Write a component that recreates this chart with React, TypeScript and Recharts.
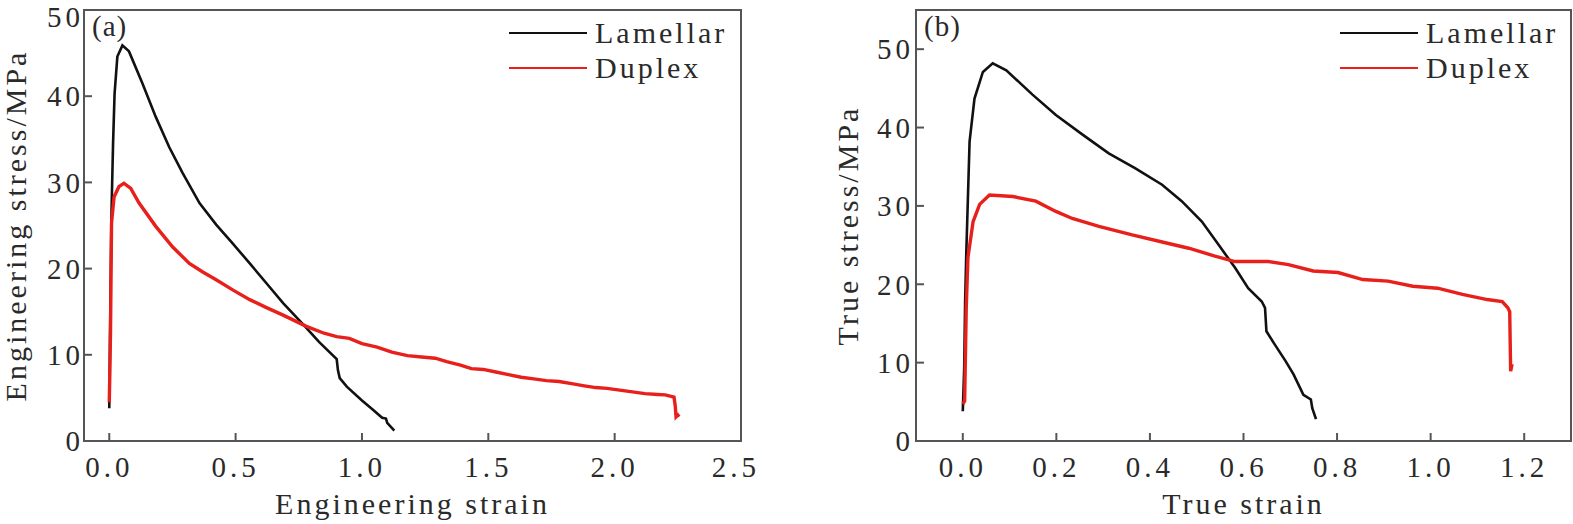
import React from "react";
import { Legend, Line, LineChart, ReferenceArea, XAxis, YAxis } from "recharts";

// (a) engineering stress-strain
const engStrainLamellar = [0, 0.004, 0.009, 0.015, 0.021, 0.032, 0.052, 0.078, 0.131, 0.184, 0.237, 0.29, 0.357, 0.423, 0.489, 0.556, 0.622, 0.688, 0.768, 0.83, 0.9, 0.905, 0.912, 0.94, 1.0, 1.04, 1.08, 1.095, 1.1, 1.128];
const engStressLamellar = [3.8, 15, 26.8, 34.5, 40.3, 44.6, 45.9, 45.2, 41.5, 37.6, 34.1, 31.1, 27.6, 25.1, 22.9, 20.6, 18.3, 16.0, 13.5, 11.5, 9.5, 8.2, 7.3, 6.3, 4.7, 3.7, 2.7, 2.6, 2.1, 1.2];
const engStrainDuplex = [0, 0.003, 0.005, 0.009, 0.019, 0.038, 0.058, 0.085, 0.118, 0.184, 0.251, 0.317, 0.37, 0.423, 0.49, 0.556, 0.62, 0.688, 0.78, 0.85, 0.9, 0.95, 1.0, 1.06, 1.118, 1.18, 1.236, 1.29, 1.335, 1.39, 1.433, 1.48, 1.53, 1.58, 1.63, 1.68, 1.73, 1.78, 1.83, 1.88, 1.925, 1.97, 2.02, 2.07, 2.12, 2.17, 2.2, 2.235, 2.24, 2.243, 2.25, 2.255];
const engStressDuplex = [4.5, 9, 12.9, 25.3, 28.3, 29.5, 29.9, 29.3, 27.6, 24.9, 22.5, 20.6, 19.6, 18.7, 17.5, 16.4, 15.5, 14.6, 13.3, 12.5, 12.1, 11.9, 11.3, 10.9, 10.3, 9.9, 9.75, 9.6, 9.2, 8.8, 8.4, 8.3, 8.0, 7.7, 7.4, 7.2, 7.0, 6.9, 6.65, 6.4, 6.2, 6.1, 5.9, 5.7, 5.5, 5.4, 5.35, 5.1, 4.0, 2.8, 3.0, 2.8];

// (b) true stress-strain
const trueStrainLamellar = [0, 0.003, 0.005, 0.0074, 0.0145, 0.025, 0.043, 0.064, 0.093, 0.149, 0.199, 0.256, 0.312, 0.369, 0.426, 0.468, 0.511, 0.546, 0.582, 0.61, 0.639, 0.646, 0.649, 0.667, 0.69, 0.707, 0.728, 0.744, 0.747, 0.755];
const trueStressLamellar = [3.8, 9.3, 17.8, 23.8, 38.2, 43.7, 47.1, 48.2, 47.3, 44.2, 41.6, 39.1, 36.7, 34.8, 32.7, 30.6, 28.0, 25.1, 22.1, 19.5, 17.8, 17.0, 14.0, 12.3, 10.2, 8.5, 5.9, 5.3, 4.2, 2.8];
const trueStrainDuplex = [0, 0.004, 0.0074, 0.011, 0.022, 0.036, 0.057, 0.107, 0.156, 0.199, 0.234, 0.291, 0.362, 0.433, 0.483, 0.539, 0.582, 0.653, 0.696, 0.749, 0.802, 0.855, 0.909, 0.962, 1.015, 1.068, 1.121, 1.153, 1.165, 1.169, 1.171, 1.174];
const trueStressDuplex = [4.7, 5.1, 17.0, 23.4, 28.0, 30.2, 31.4, 31.2, 30.6, 29.3, 28.4, 27.4, 26.3, 25.3, 24.6, 23.6, 22.9, 22.9, 22.5, 21.7, 21.5, 20.6, 20.4, 19.75, 19.5, 18.7, 18.05, 17.8, 17.0, 16.5, 8.9, 9.8];

const engStrainTicks = [0, 0.5, 1.0, 1.5, 2.0, 2.5];
const trueStrainTicks = [0, 0.2, 0.4, 0.6, 0.8, 1.0, 1.2];
const stressTicks = [0, 10, 20, 30, 40, 50];
const seriesOrder = ["Lamellar", "Duplex"];

const FONT = "'Liberation Serif', 'Times New Roman', serif";
const TEXT = "#2a2a2a";
const FRAME = "#555";
const BLACK = "#111";
const RED = "#e8201c";

const zip = (xs: number[], ys: number[]) => xs.map((x, i) => ({ x, y: ys[i] }));

const tickStyle = { fontFamily: FONT, fontSize: 29, fill: TEXT, letterSpacing: 4 };

function renderLegend(props: any) {
  const items = [...(props.payload ?? [])].sort(
    (a: any, b: any) => seriesOrder.indexOf(a.value) - seriesOrder.indexOf(b.value)
  );
  return (
    <div style={{ fontFamily: FONT, fontSize: 30, color: TEXT, letterSpacing: 3 }}>
      {items.map((p: any) => (
        <div key={p.value} style={{ display: "flex", alignItems: "center", height: 35 }}>
          <div style={{ width: 78, borderTop: `2.5px solid ${p.color}`, marginRight: 8 }} />
          <span style={{ lineHeight: "35px" }}>{p.value}</span>
        </div>
      ))}
    </div>
  );
}

// axis titles and panel tag go through Label content so they stay inside the chart svg
const xTitle = (text: string, baseline: number) => (props: any) => {
  const vb = props.viewBox;
  return (
    <text x={vb.x + vb.width / 2} y={baseline} textAnchor="middle" style={{ fontFamily: FONT, fontSize: 30, fill: TEXT, letterSpacing: 3 }}>
      {text}
    </text>
  );
};

const yTitle = (text: string, x: number, tag: string) => (props: any) => {
  const vb = props.viewBox;
  const cy = vb.y + vb.height / 2;
  const plotLeft = vb.x + vb.width;
  return (
    <g>
      <text x={x} y={cy} transform={`rotate(-90, ${x}, ${cy})`} textAnchor="middle" style={{ fontFamily: FONT, fontSize: 30, fill: TEXT, letterSpacing: 3 }}>
        {text}
      </text>
      <text x={plotLeft + 8} y={vb.y + 26} style={{ fontFamily: FONT, fontSize: 29, fill: TEXT, letterSpacing: 1 }}>
        {tag}
      </text>
    </g>
  );
};

type PanelProps = {
  left: number;
  width: number;
  yAxisWidth: number;
  yTickMargin: number;
  xDomain: [number, number];
  yDomain: [number, number];
  xTicks: number[];
  lamellar: { x: number; y: number }[];
  duplex: { x: number; y: number }[];
  tag: string;
  xLabel: string;
  yLabel: string;
  yLabelX: number;
  legendLeft: number;
  marginRight: number;
};

function Panel(p: PanelProps) {
  return (
    <div style={{ position: "absolute", left: p.left, top: 0 }}>
      <LineChart width={p.width} height={524} margin={{ top: 10, right: p.marginRight, bottom: 0, left: 0 }}>
        <XAxis
          dataKey="x"
          type="number"
          domain={p.xDomain}
          ticks={p.xTicks}
          allowDataOverflow
          height={83}
          tickSize={-8}
          tickMargin={23}
          stroke={FRAME}
          strokeWidth={2}
          tick={tickStyle}
          tickFormatter={(v: number) => v.toFixed(1)}
          label={{ content: xTitle(p.xLabel, 514) }}
        />
        <YAxis
          type="number"
          domain={p.yDomain}
          ticks={stressTicks}
          allowDataOverflow
          width={p.yAxisWidth}
          tickSize={-8}
          tickMargin={p.yTickMargin}
          stroke={FRAME}
          strokeWidth={2}
          tick={tickStyle}
          label={{ content: yTitle(p.yLabel, p.yLabelX, p.tag) }}
        />
        <ReferenceArea
          x1={p.xDomain[0]}
          x2={p.xDomain[1]}
          y1={p.yDomain[0]}
          y2={p.yDomain[1]}
          fill="none"
          stroke={FRAME}
          strokeWidth={2}
          ifOverflow="visible"
        />
        <Legend
          layout="vertical"
          align="center"
          verticalAlign="middle"
          wrapperStyle={{ left: p.legendLeft, top: 15, width: "auto", height: "auto" }}
          content={renderLegend}
        />
        <Line data={p.lamellar} dataKey="y" name="Lamellar" type="linear" stroke={BLACK} strokeWidth={2.6} dot={false} isAnimationActive={false} />
        <Line data={p.duplex} dataKey="y" name="Duplex" type="linear" stroke={RED} strokeWidth={3.4} dot={false} isAnimationActive={false} />
      </LineChart>
    </div>
  );
}

export default function App() {
  return (
    <div style={{ position: "absolute", left: 0, top: 0, width: 1573, height: 524, background: "#fff" }}>
      <Panel
        left={0}
        width={760}
        marginRight={19}
        yAxisWidth={84}
        yTickMargin={8}
        xDomain={[-0.1, 2.5]}
        yDomain={[0, 50]}
        xTicks={engStrainTicks}
        lamellar={zip(engStrainLamellar, engStressLamellar)}
        duplex={zip(engStrainDuplex, engStressDuplex)}
        tag="(a)"
        xLabel="Engineering strain"
        yLabel="Engineering stress/MPa"
        yLabelX={26}
        legendLeft={509}
      />
      <Panel
        left={800}
        width={773}
        marginRight={2}
        yAxisWidth={116}
        yTickMargin={10}
        xDomain={[-0.1, 1.3]}
        yDomain={[0, 55]}
        xTicks={trueStrainTicks}
        lamellar={zip(trueStrainLamellar, trueStressLamellar)}
        duplex={zip(trueStrainDuplex, trueStressDuplex)}
        tag="(b)"
        xLabel="True strain"
        yLabel="True stress/MPa"
        yLabelX={58}
        legendLeft={540}
      />
    </div>
  );
}
